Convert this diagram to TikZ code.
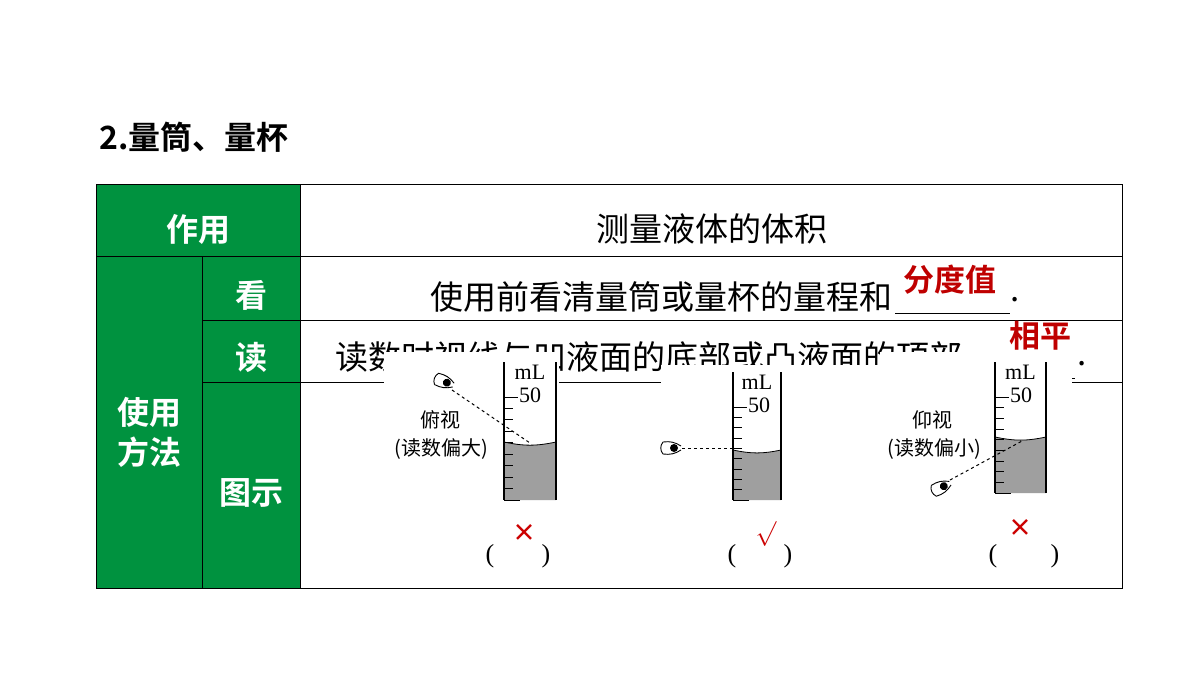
\documentclass[tikz,border=0pt]{standalone}
\usepackage{fontspec}
\setmainfont{Liberation Serif}
\newfontfamily\cjk{Noto Sans CJK SC}
\newfontfamily\cjkb{Noto Sans CJK SC Bold}
\begin{document}
\begin{tikzpicture}[x=1pt,y=-1pt,
  hd/.style={font=\cjkb\fontsize{32}{40}\selectfont,text=white,align=center},
  body/.style={font=\cjk\fontsize{33}{33}\selectfont},
  ans/.style={font=\cjkb\fontsize{31}{31}\selectfont,text=red!75!black},
  small/.style={font=\cjk\fontsize{20}{20}\selectfont},
  ser/.style={font=\fontsize{22}{22}\selectfont},
  sight/.style={dashed,line width=1pt},
  wall/.style={line width=1.6pt}]
\definecolor{grn}{HTML}{00923F}
\useasboundingbox (0,0) rectangle (1200,675);
\fill[white] (0,0) rectangle (1200,675);
\node[anchor=west,font=\cjkb\fontsize{32}{32}\selectfont] (title) at (96,137) {2.量筒、量杯};
% table
\fill[grn] (96,184) rectangle (300,588);
\draw[line width=0.8pt] (96,184) rectangle (1122,588);
\draw[line width=0.8pt] (300,184) -- (300,588) (96,256) -- (1122,256) (202,256) -- (202,588)
  (202,320) -- (1122,320) (202,382) -- (1122,382);
\node[hd] (h1) at (198,229) {作用};
\node[hd] (h2) at (149,432) {使用\\方法};
\node[hd] (h3) at (251,295) {看};
\node[hd] (h4) at (251,357) {读};
\node[hd] (h5) at (251,493) {图示};
\node[body] (c1) at (712,229) {测量液体的体积};
\node[body,anchor=east,inner sep=0] (c2) at (893,297) {使用前看清量筒或量杯的量程和};
\draw[line width=0.8pt] (895,313) -- (1010,313);
\node[body,anchor=west,inner sep=0] at (1010,300) {.};
\node[ans] (a1) at (950,280) {分度值};
\node[body,anchor=west,inner sep=0] (c3) at (335,357) {读数时视线与凹液面的底部或凸液面的顶部};
\draw[line width=0.8pt] (1020,378) -- (1075,378);
\node[body,anchor=west,inner sep=0] at (1077,364) {.};
\node[ans] (a2) at (1040,336) {相平};
% image cover boxes
\fill[white] (384,352) rectangle (559,510);
\fill[white] (661,365) rectangle (880,510);
\fill[white] (880,352) rectangle (1020,510);
\fill[white] (990,352) rectangle (1052,510);
\fill[white] (1052,370) rectangle (1072,510);
% cylinders
\foreach \L/\R/\T/\B/\M in {504/556/362/500/442,733/781/372/500/450,995/1046/362/493/437}{
  \fill[gray!75] (\L,\M) to[bend right=12] (\R,\M) -- (\R,\B) -- (\L,\B) -- cycle;
  \draw[line width=0.8pt] (\L,\M) to[bend right=12] (\R,\M);
  \draw[wall] (\L,\T) -- (\L,\B) (\R,\T) -- (\R,\B);
  \pgfmathsetmacro\st{(\B-\T-35)/9}
  \foreach \k in {0,...,8}{\draw[line width=1pt] (\L,\B-\k*\st) -- ++(\ifnum\k=0 16\else 9\fi,0);}
  \draw[line width=1pt] (\L,\T+35) -- ++(14,0);
  \node[ser,anchor=west,inner sep=0] at (\L+15,\T+33) {50};
  \node[ser,inner sep=0] at ({(\L+\R)/2},\T+10) {mL};
}
% eyes
\foreach \x/\y/\r in {445/382/-20,672/448/0,942/487/25}{
  \begin{scope}[shift={(\x,\y)},rotate=\r]
  \draw[line width=0.9pt] (-9,-6) to[bend left=20] (9,-2) (-9,6) to[bend right=20] (9,2) (-9,-6) to[bend right=40] (-9,6);
  \fill (2,0) circle (4);
  \end{scope}}
\coordinate (e1) at (452,390); \coordinate (t1) at (530,443);
\coordinate (e2) at (682,448); \coordinate (t2) at (733,448);
\coordinate (e3) at (950,480); \coordinate (t3) at (1022,441);
\draw[sight] (e1) -- (t1); \draw[sight] (e2) -- (t2); \draw[sight] (e3) -- (t3);
\node[small] at (440,420) {俯视};
\node[small] at (441,449) {(读数偏大)};
\node[small] at (932,420) {仰视};
\node[small] at (934,449) {(读数偏小)};
% answers
\foreach \x in {490,732,993}{\node[font=\fontsize{26}{26}\selectfont] at (\x,556) {(};}
\foreach \x in {546,788,1055}{\node[font=\fontsize{26}{26}\selectfont] at (\x,556) {)};}
\node[text=red!80!black,font=\cjkb\fontsize{24}{24}\selectfont] at (524,533) {×};
\node[text=red!80!black,font=\fontsize{26}{26}\selectfont] at (766,534) {$\surd$};
\node[text=red!80!black,font=\cjkb\fontsize{24}{24}\selectfont] at (1020,528) {×};
\end{tikzpicture}
\end{document}
